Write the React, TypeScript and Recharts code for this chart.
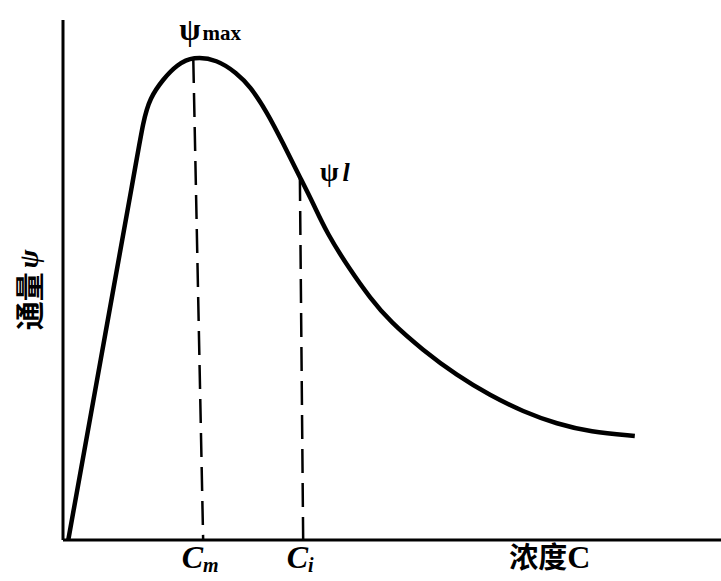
import React from "react";
import { LineChart, Line, XAxis, YAxis, ReferenceLine, ReferenceDot } from "recharts";

// concentration C (x) and flux ψ (y)
const concentration = [0.08, 0.56, 1.11, 1.22, 1.32, 1.52, 1.73, 1.98, 2.34, 2.64, 2.84, 3.1, 3.34, 3.6, 3.8, 4.01, 4.36, 4.67, 4.97, 5.47, 5.99, 6.49, 6.99, 7.51, 8.01, 8.69];
const flux = [0.0, 3.38, 7.24, 8.06, 8.5, 8.86, 9.14, 9.3, 9.24, 8.98, 8.73, 8.23, 7.64, 6.98, 6.48, 5.9, 5.2, 4.65, 4.2, 3.65, 3.16, 2.78, 2.47, 2.23, 2.08, 2.0];

const peak = { c: 1.98, psi: 9.25, base: 2.13 };
const limit = { c: 3.6, psi: 6.98, base: 3.65 };

const xTicks = [2.13, 3.65, 7.4];
const xTickMain = ["C", "C", "浓度C"];
const xTickSub = ["m", "i", ""];

const data = concentration.map((c, i) => ({ c, psi: flux[i] }));

const serif = "'Liberation Serif', 'DejaVu Serif', serif";
const cjk = "'Noto Sans CJK SC', 'Noto Sans', sans-serif";

const XTick = (props: any) => {
  const { x, y, index } = props;
  const main = xTickMain[index];
  const sub = xTickSub[index];
  if (index === 2) {
    return (
      <text x={x} y={y + 26} textAnchor="middle" fontFamily={cjk} fontWeight={700} fontSize={29} fill="#000">
        浓度<tspan fontFamily={serif} fontSize={32}>C</tspan>
      </text>
    );
  }
  return (
    <text x={x - 3} y={y + 26} textAnchor="middle" fontFamily={serif} fontStyle="italic" fontWeight={700} fill="#000">
      <tspan fontSize={32}>{main}</tspan>
      <tspan fontSize={20} dy={4}>{sub}</tspan>
    </text>
  );
};

const YLabel = (props: any) => {
  const vb = props.viewBox || { x: 0, y: 20, width: 63, height: 520 };
  const cx = vb.x + 28;
  const cy = 290;
  return (
    <text
      x={cx}
      y={cy}
      transform={`rotate(-90, ${cx}, ${cy})`}
      textAnchor="middle"
      dominantBaseline="central"
      fontFamily={cjk}
      fontWeight={700}
      fontSize={29}
      fill="#000"
    >
      通量<tspan fontFamily={serif} fontStyle="italic" fontWeight={700} fontSize={28} dx={4}>ψ</tspan>
    </text>
  );
};

const PeakLabel = (props: any) => {
  const vb = props.viewBox || { x: 0, y: 0 };
  return (
    <text x={vb.x - 14} y={vb.y - 19} fontFamily={serif} fontWeight={700} fill="#000">
      <tspan fontSize={31}>ψ</tspan>
      <tspan fontSize={21} dx={2}>max</tspan>
    </text>
  );
};

const LimitLabel = (props: any) => {
  const vb = props.viewBox || { x: 0, y: 0 };
  return (
    <text x={vb.x + 20} y={vb.y + 4} fontFamily={serif} fontWeight={700} fill="#000">
      <tspan fontSize={27}>ψ</tspan>
      <tspan fontSize={26} fontStyle="italic" dx={4}>l</tspan>
    </text>
  );
};

export default function App() {
  return (
    <div style={{ position: "absolute", left: 0, top: 0, background: "#fff" }}>
      <LineChart width={721} height={581} data={data} margin={{ top: 20, right: 0, bottom: 0, left: 0 }}>
        <XAxis
          type="number"
          dataKey="c"
          domain={[0, 10]}
          ticks={xTicks}
          interval={0}
          tickLine={false}
          tickSize={0}
          height={41}
          axisLine={{ stroke: "#000", strokeWidth: 3 }}
          tick={<XTick />}
        />
        <YAxis
          type="number"
          domain={[0, 10]}
          width={63}
          tick={false}
          tickLine={false}
          axisLine={{ stroke: "#000", strokeWidth: 3 }}
          label={<YLabel />}
        />
        <ReferenceLine
          segment={[{ x: peak.c, y: peak.psi }, { x: peak.base, y: 0 }]}
          stroke="#000"
          strokeWidth={2.5}
          strokeDasharray="24 10"
        />
        <ReferenceLine
          segment={[{ x: limit.c, y: limit.psi }, { x: limit.base, y: 0 }]}
          stroke="#000"
          strokeWidth={2.5}
          strokeDasharray="24 10"
        />
        <Line
          type="basis"
          dataKey="psi"
          stroke="#000"
          strokeWidth={4.5}
          dot={false}
          isAnimationActive={false}
        />
        <ReferenceDot x={peak.c} y={peak.psi} r={0} fill="none" stroke="none" label={<PeakLabel />} />
        <ReferenceDot x={limit.c} y={limit.psi} r={0} fill="none" stroke="none" label={<LimitLabel />} />
      </LineChart>
    </div>
  );
}
